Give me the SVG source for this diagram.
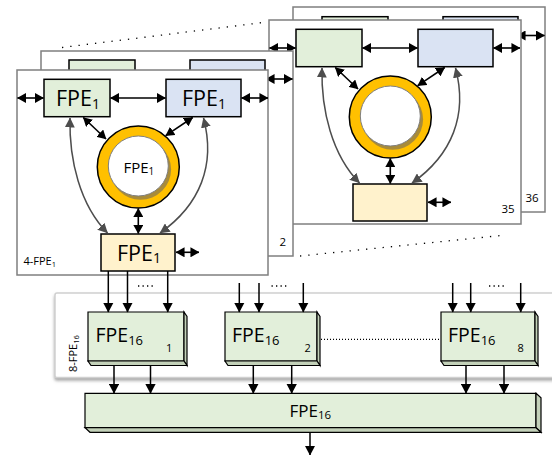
<svg xmlns="http://www.w3.org/2000/svg" width="552" height="455" viewBox="0 0 552 455">
<style>
.frame{fill:#fff;stroke:#7f7f7f;stroke-width:1.5}
.gb{fill:#E2EFDA;stroke:#000;stroke-width:1.5}
.bb{fill:#DAE3F3;stroke:#000;stroke-width:1.5}
.yb{fill:#FFF2CC;stroke:#000;stroke-width:1.5}
.arr{stroke:#000;stroke-width:1.6;fill:none;marker-start:url(#ah);marker-end:url(#ah)}
.sarr{stroke:#000;stroke-width:1.5;fill:none;marker-end:url(#ah2)}
.garr{stroke:#4d4d4d;stroke-width:1.5;fill:none;marker-start:url(#gh);marker-end:url(#gh)}
.t{font-family:"Open Sans","Noto Sans",sans-serif;fill:#000}
.dots{stroke:#000;stroke-width:1.3;fill:none}
.face{fill:#E2EFDA;stroke:#000;stroke-width:1.2}
.side{fill:#C3D1B9;stroke:#000;stroke-width:1.2}
</style>
<defs>
<marker id="ah" viewBox="0 0 10 10" refX="9.5" refY="5" markerWidth="9" markerHeight="10" preserveAspectRatio="none" orient="auto-start-reverse" markerUnits="userSpaceOnUse"><path d="M0,0 L10,5 L0,10 z" fill="#000"/></marker>
<marker id="ah2" viewBox="0 0 10 10" refX="9.5" refY="5" markerWidth="10" markerHeight="10.5" preserveAspectRatio="none" orient="auto" markerUnits="userSpaceOnUse"><path d="M0,0 L10,5 L0,10 z" fill="#000"/></marker>
<marker id="gh" viewBox="0 0 10 10" refX="9.5" refY="5" markerWidth="10" markerHeight="10" preserveAspectRatio="none" orient="auto-start-reverse" markerUnits="userSpaceOnUse"><path d="M0,0 L10,5 L0,10 z" fill="#4d4d4d"/></marker>
<filter id="sh" x="-5%" y="-10%" width="110%" height="130%"><feDropShadow dx="0" dy="2.5" stdDeviation="1.5" flood-color="#808080" flood-opacity="0.7"/></filter>
</defs>

<!-- frame 36 -->
<g id="frame36">
<rect class="frame" x="293" y="7" width="252" height="205"/>
<rect class="gb" x="322" y="16.7" width="66" height="37.4"/>
<rect class="bb" x="443" y="16.7" width="75" height="37.4"/>
<line class="arr" x1="517" y1="35.5" x2="544.5" y2="35.5"/>
<text class="t" x="525.5" y="201.5" font-size="11.5">36</text>
</g>

<!-- frame 35 -->
<g id="frame35">
<rect class="frame" x="269" y="20" width="252" height="204"/>
<g transform="translate(252,-50)">
<g id="f35-green"><rect class="gb" x="44" y="79.3" width="66" height="37.4"/></g>
<g id="f35-blue"><rect class="bb" x="166" y="79.3" width="75" height="37.4"/></g>
<g id="f35-ring">
<circle cx="138.3" cy="167" r="41" fill="#FFC000" stroke="#000" stroke-width="1.5"/>
<circle cx="140.6" cy="169.3" r="30.5" fill="#A88B3A"/>
<circle cx="138.3" cy="166" r="30" fill="#fff" stroke="#7f7f7f" stroke-width="1"/>
</g>
<g id="f35-yellow"><rect class="yb" x="101" y="234" width="74" height="37"/></g>
<g id="f35-connectors">
<line class="arr" x1="17.5" y1="98" x2="43.5" y2="98"/>
<line class="arr" x1="110.5" y1="98" x2="165.5" y2="98"/>
<line class="arr" x1="241.5" y1="98" x2="268" y2="98"/>
<line class="arr" x1="83.3" y1="117.5" x2="106" y2="139"/>
<line class="arr" x1="192.7" y1="117.5" x2="165.7" y2="135.7"/>
<line class="arr" x1="138.3" y1="208.5" x2="138.3" y2="233.5"/>
<line class="arr" x1="176" y1="252.3" x2="199" y2="252.3"/>
<path class="garr" d="M70,118 C69,160 80,205 107.5,233"/>
<path class="garr" d="M203.5,118 C216,165 200,205 160,233"/>
</g>
</g>
<text class="t" x="501.5" y="213.3" font-size="11.5">35</text>
</g>

<!-- frame 2 -->
<g id="frame2">
<rect class="frame" x="41" y="51" width="252" height="205"/>
<rect class="gb" x="69" y="60" width="66" height="37.4"/>
<rect class="bb" x="190" y="60" width="75" height="37.4"/>
<line class="arr" x1="266" y1="79" x2="292.5" y2="79"/>
<text class="t" x="279.5" y="245.7" font-size="11.5">2</text>
</g>

<!-- dotted perspective lines -->
<g id="perspective">
<line class="dots" x1="62" y1="47.5" x2="267" y2="22" stroke-dasharray="1.3 7"/>
<line class="dots" x1="300" y1="256" x2="506" y2="235" stroke-dasharray="1.3 7"/>
</g>

<!-- front frame 4-FPE1 -->
<g id="frame1">
<rect class="frame" x="17" y="70" width="251" height="205" stroke="#666"/>
<text class="t" x="23.5" y="265" font-size="11">4-FPE<tspan font-size="7.5" dy="2">1</tspan></text>
</g>
<g id="node-green">
<rect class="gb" x="44" y="79.3" width="66" height="37.4"/>
<text class="t" x="56" y="106" font-size="21.5">FPE<tspan font-size="14" dy="2.5">1</tspan></text>
</g>
<g id="node-blue">
<rect class="bb" x="166" y="79.3" width="75" height="37.4"/>
<text class="t" x="182" y="106" font-size="21.5">FPE<tspan font-size="14" dy="2.5">1</tspan></text>
</g>
<g id="node-ring">
<circle cx="138.3" cy="167" r="41" fill="#FFC000" stroke="#000" stroke-width="1.5"/>
<circle cx="140.6" cy="169.3" r="30.5" fill="#A88B3A"/>
<circle cx="138.3" cy="166" r="30" fill="#fff" stroke="#7f7f7f" stroke-width="1"/>
<text class="t" x="123.5" y="173.3" font-size="15">FPE<tspan font-size="10" dy="2">1</tspan></text>
</g>
<g id="node-yellow">
<rect class="yb" x="101" y="234" width="74" height="37"/>
<text class="t" x="117" y="260.7" font-size="21.5">FPE<tspan font-size="14" dy="2.5">1</tspan></text>
</g>
<g id="frame1-connectors">
<line class="arr" x1="17.5" y1="98" x2="43.5" y2="98"/>
<line class="arr" x1="110.5" y1="98" x2="165.5" y2="98"/>
<line class="arr" x1="241.5" y1="98" x2="268" y2="98"/>
<line class="arr" x1="83.3" y1="117.5" x2="106" y2="139"/>
<line class="arr" x1="192.7" y1="117.5" x2="165.7" y2="135.7"/>
<line class="arr" x1="138.3" y1="208.5" x2="138.3" y2="233.5"/>
<line class="arr" x1="176" y1="252.3" x2="199" y2="252.3"/>
<path class="garr" d="M70,118 C69,160 80,205 107.5,233"/>
<path class="garr" d="M203.5,118 C216,165 200,205 160,233"/>
</g>

<!-- 8-FPE16 panel -->
<g id="panel">
<rect x="55" y="293" width="520" height="84.5" rx="2" fill="#fff" stroke="#d0d0d0" stroke-width="1.5" filter="url(#sh)"/>
<text class="t" transform="translate(76.5,372) rotate(-90)" font-size="11">8-FPE<tspan font-size="7.5" dy="2">16</tspan></text>
</g>

<g id="node-fpe16-1">
<path class="face" d="M88,312 H184 V361 H88 Z"/>
<path class="side" d="M184,312 L187,316.5 V365.5 L184,361 Z"/>
<path class="side" d="M88,361 H184 L187,365.5 H91 Z"/>
<text class="t" x="95.5" y="341.7" font-size="19.5">FPE<tspan font-size="13" dy="3">16</tspan></text>
<text class="t" x="166" y="352.3" font-size="11">1</text>
</g>
<g id="node-fpe16-2">
<path class="face" d="M225,312 H317 V361 H225 Z"/>
<path class="side" d="M317,312 L320,316.5 V365.5 L317,361 Z"/>
<path class="side" d="M225,361 H317 L320,365.5 H228 Z"/>
<text class="t" x="232" y="341.7" font-size="19.5">FPE<tspan font-size="13" dy="3">16</tspan></text>
<text class="t" x="304.5" y="352.3" font-size="11">2</text>
</g>
<g id="node-fpe16-8">
<path class="face" d="M441,312 H535 V361 H441 Z"/>
<path class="side" d="M535,312 L538,316.5 V365.5 L535,361 Z"/>
<path class="side" d="M441,361 H535 L538,365.5 H444 Z"/>
<text class="t" x="448" y="341.7" font-size="19.5">FPE<tspan font-size="13" dy="3">16</tspan></text>
<text class="t" x="517.5" y="352.3" font-size="11">8</text>
</g>
<g id="node-fpe16-sum">
<path class="face" d="M85,393.3 H536 V427.7 H85 Z"/>
<path class="side" d="M536,393.3 L541,397.8 V432.3 L536,427.7 Z"/>
<path class="side" d="M85,427.7 H536 L541,432.3 H90 Z"/>
<text class="t" x="289.5" y="417.3" font-size="17">FPE<tspan font-size="11.5" dy="2">16</tspan></text>
</g>

<g id="connectors">
<line class="sarr" x1="108.3" y1="271" x2="108.3" y2="312"/>
<line class="sarr" x1="127.5" y1="271" x2="127.5" y2="312"/>
<line class="sarr" x1="167.7" y1="271" x2="167.7" y2="312"/>
<line class="dots" x1="138" y1="286" x2="156" y2="286" stroke-dasharray="1.3 3.2"/>
<line class="sarr" x1="239.3" y1="283" x2="239.3" y2="312"/>
<line class="sarr" x1="259" y1="283" x2="259" y2="312"/>
<line class="sarr" x1="303.3" y1="283" x2="303.3" y2="312"/>
<line class="dots" x1="271.5" y1="286" x2="289" y2="286" stroke-dasharray="1.3 3.2"/>
<line class="sarr" x1="452.7" y1="283" x2="452.7" y2="312"/>
<line class="sarr" x1="470.7" y1="283" x2="470.7" y2="312"/>
<line class="sarr" x1="520.7" y1="283" x2="520.7" y2="312"/>
<line class="dots" x1="489" y1="286" x2="507" y2="286" stroke-dasharray="1.3 3.2"/>
<line class="dots" x1="321" y1="339.3" x2="440" y2="339.3" stroke-dasharray="1 2"/>
<line class="sarr" x1="114" y1="365.5" x2="114" y2="393.3"/>
<line class="sarr" x1="150.5" y1="365.5" x2="150.5" y2="393.3"/>
<line class="sarr" x1="253.3" y1="365.5" x2="253.3" y2="393.3"/>
<line class="sarr" x1="291.7" y1="365.5" x2="291.7" y2="393.3"/>
<line class="sarr" x1="466" y1="365.5" x2="466" y2="393.3"/>
<line class="sarr" x1="504" y1="365.5" x2="504" y2="393.3"/>
<line class="sarr" x1="310" y1="432.3" x2="310" y2="455"/>
</g>
</svg>
